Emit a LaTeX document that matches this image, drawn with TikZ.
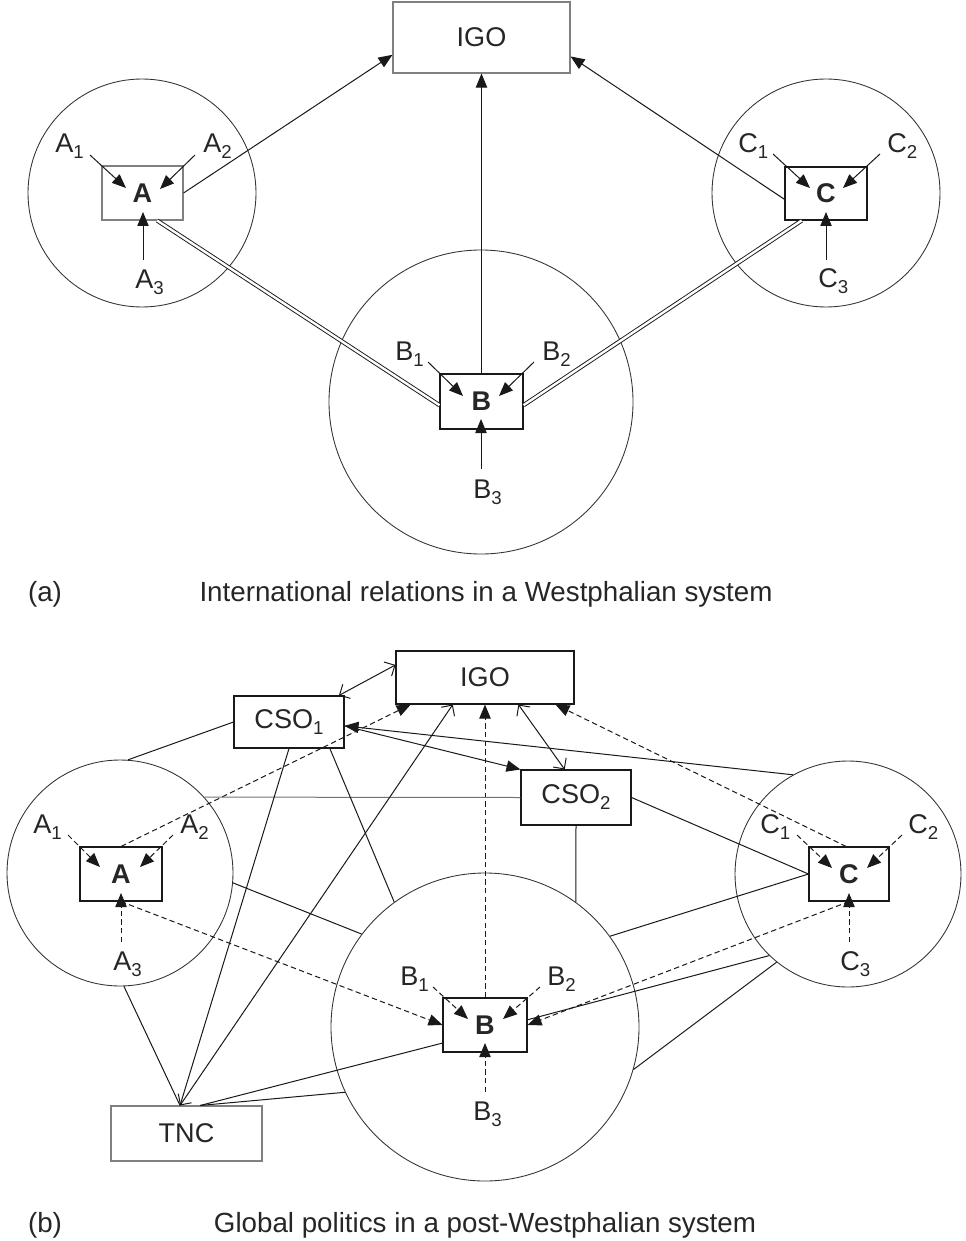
\documentclass[tikz,border=0pt]{standalone}
\usepackage{fontspec}
\setmainfont{Liberation Sans}
\usetikzlibrary{arrows.meta}
\newcommand{\lsub}[1]{\raisebox{-4.5pt}{\fontsize{14}{14}\selectfont #1}}
\newcommand{\labfont}{\fontsize{20.3}{24}\selectfont}
\newcommand{\capfont}{\fontsize{20.8}{24}\selectfont}
\begin{document}
\begin{tikzpicture}[x=0.75pt,y=-0.75pt,
  every node/.style={text=black!85},
  sz/.style 2 args={minimum width=#1*0.75pt, minimum height=#2*0.75pt},
  box/.style={draw=black!90, rectangle, inner sep=0pt, line width=0.8pt, font=\labfont},
  gbox/.style={draw=black!50},
  ring/.style={draw=black!80, circle, inner sep=0pt, line width=0.65pt},
  lbl/.style={inner sep=0pt, anchor=base west, font=\labfont},
  captxt/.style={inner sep=0pt, font=\capfont},
  conn/.style={draw=black!90, line width=0.75pt},
  arr/.style={conn, -{Triangle[length=10.5pt,width=8.5pt]}},
  darr/.style={arr, dash pattern=on 4pt off 2.5pt},
  oarr/.style={conn, {Straight Barb[length=6pt,width=12pt]}-{Straight Barb[length=6pt,width=12pt]}},
  dbl/.style={draw=black!90, double, double distance=1.8pt, line width=0.7pt}
]
\useasboundingbox (0,0) rectangle (965,1241);

% ---------------- (a) ----------------
\node[ring, minimum size=228*0.75pt] (cA) at (142,193) {};
\node[ring, minimum size=228*0.75pt] (cC) at (826,193) {};
\node[ring, minimum size=304*0.75pt] (cB) at (481,402) {};

\node[box, gbox, sz={177}{71}] (igoA) at (481.5,37.5) {IGO};
\node[box, gbox, sz={81}{54}] (bA) at (142.5,193) {\textbf{A}};
\node[box, sz={82}{53}] (bC) at (826,193.5) {\textbf{C}};
\node[box, sz={83}{55}] (bB) at (481.5,401.5) {\textbf{B}};

\node[lbl] (lA1) at (55,153) {A\lsub{1}};
\node[lbl] (lA2) at (203,153) {A\lsub{2}};
\node[lbl] (lA3) at (135,288) {A\lsub{3}};
\node[lbl] (lC1) at (738,153) {C\lsub{1}};
\node[lbl] (lC2) at (887,153) {C\lsub{2}};
\node[lbl] (lC3) at (818,287) {C\lsub{3}};
\node[lbl] (lB1) at (395,360) {B\lsub{1}};
\node[lbl] (lB2) at (542,360) {B\lsub{2}};
\node[lbl] (lB3) at (473,498) {B\lsub{3}};

\coordinate (sA1) at (90,155);  \coordinate (tA1) at (126,188);
\coordinate (sA2) at (195,155); \coordinate (tA2) at (160,189);
\coordinate (sA3) at (143,260); \coordinate (tA3) at (143,212);
\coordinate (sC1) at (773,154); \coordinate (tC1) at (810,188);
\coordinate (sC2) at (880,154); \coordinate (tC2) at (843,188);
\coordinate (sC3) at (826,260); \coordinate (tC3) at (826,212);
\coordinate (sB1) at (428,362); \coordinate (tB1) at (463,396);
\coordinate (sB2) at (534,362); \coordinate (tB2) at (499,396);
\coordinate (sB3) at (481,469); \coordinate (tB3) at (481,419);
\foreach \n in {A1,A2,A3,B1,B2,B3,C1,C2,C3} {\draw[arr] (s\n) -- (t\n);}

\draw[arr] (bA.east) -- (igoA.191.8);
\draw[arr] (bC.188) -- (igoA.348.2);
\draw[arr] (bB.north) -- (igoA.south);
\draw[dbl] (bA.298) -- (bB.185);
\draw[dbl] (bC.228) -- (bB.355);

\node[captxt] (capa) at (45,594) {(a)};
\node[captxt] (capat) at (486,594) {International relations in a Westphalian system};

% ---------------- (b) ----------------
\node[ring, minimum size=226*0.75pt] (cAb) at (120,873) {};
\node[ring, minimum size=226*0.75pt] (cCb) at (848,874) {};
\node[ring, minimum size=308*0.75pt] (cBb) at (485,1027) {};

\node[box, sz={178}{53}] (igoB) at (485,677.5) {IGO};
\node[box, sz={110}{52}] (cso1) at (289,722) {CSO\lsub{1}};
\node[box, sz={110}{55}] (cso2) at (576,797.5) {CSO\lsub{2}};
\node[box, sz={82}{54}] (bAb) at (121,874) {\textbf{A}};
\node[box, sz={80}{54}] (bCb) at (849,874) {\textbf{C}};
\node[box, sz={84}{54}] (bBb) at (485,1025) {\textbf{B}};
\node[box, gbox, sz={151}{55}] (tnc) at (186.5,1133.5) {TNC};

\node[lbl] (lA1b) at (33,833) {A\lsub{1}};
\node[lbl] (lA2b) at (180,833) {A\lsub{2}};
\node[lbl] (lA3b) at (113,970) {A\lsub{3}};
\node[lbl] (lC1b) at (760,833) {C\lsub{1}};
\node[lbl] (lC2b) at (908,833) {C\lsub{2}};
\node[lbl] (lC3b) at (840,970) {C\lsub{3}};
\node[lbl] (lB1b) at (400,985) {B\lsub{1}};
\node[lbl] (lB2b) at (547,985) {B\lsub{2}};
\node[lbl] (lB3b) at (473,1120) {B\lsub{3}};

\coordinate (sA1b) at (68,835);   \coordinate (tA1b) at (100,867);
\coordinate (sA2b) at (173,835);  \coordinate (tA2b) at (140,867);
\coordinate (sA3b) at (121,942);  \coordinate (tA3b) at (121,893);
\coordinate (sB1b) at (433,987);  \coordinate (tB1b) at (468,1019);
\coordinate (sB2b) at (540,987);  \coordinate (tB2b) at (503,1019);
\coordinate (sB3b) at (485,1092); \coordinate (tB3b) at (485,1043);
\coordinate (sC1b) at (797,835);  \coordinate (tC1b) at (832,868);
\coordinate (sC2b) at (902,835);  \coordinate (tC2b) at (867,868);
\coordinate (sC3b) at (849,942);  \coordinate (tC3b) at (849,893);
\foreach \n in {A1b,A2b,A3b,B1b,B2b,B3b,C1b,C2b,C3b} {\draw[darr] (s\n) -- (t\n);}

% connectors
\draw[oarr] (cso1.28) -- (igoB.172);
\draw[darr] (bAb.north) -- (igoB.200.7);
\draw[arr] (cCb.119.7) -- (cso1.356);
\draw[arr] (cso1.356) -- (cso2.north west);
\draw[oarr] (igoB.321.8) -- (cso2.112);
\draw[darr] (bCb.96) -- (igoB.339.3);
\draw[darr] (bBb.north) -- (igoB.south);
\draw[conn] (cso1.west) -- (cAb.86);
\draw[conn, draw=black!55] (cAb.42) -- (cso2.west);
\draw[conn] (cso2.east) -- (bCb.west);
\draw[conn] (cso2.south) -- (cBb.54);
\draw[conn] (bCb.west) -- (cBb.36.4);
\draw[conn] (cCb.231.7) -- (cBb.344.7);
\draw[conn] (cCb.226.8) -- (bBb.7);
\draw[darr] (bCb.south) -- (bBb.east);
\draw[darr] (bAb.south) -- (bBb.west);
\draw[conn] (cAb.355) -- (cBb.143.8);
\draw[conn] (cso1.327.6) -- (cBb.126.6);
\draw[conn] (cso1.south) -- (tnc.103);
\draw[oarr] (tnc.103) -- (igoB.220.7);
\draw[conn] (cAb.272.5) -- (tnc.103);
\draw[conn] (tnc.64) -- (bBb.203);
\draw[conn] (tnc.64) -- (cBb.205.3);

\node[captxt] (capb) at (45,1225) {(b)};
\node[captxt] (capbt) at (485,1225) {Global politics in a post-Westphalian system};
\end{tikzpicture}
\end{document}
